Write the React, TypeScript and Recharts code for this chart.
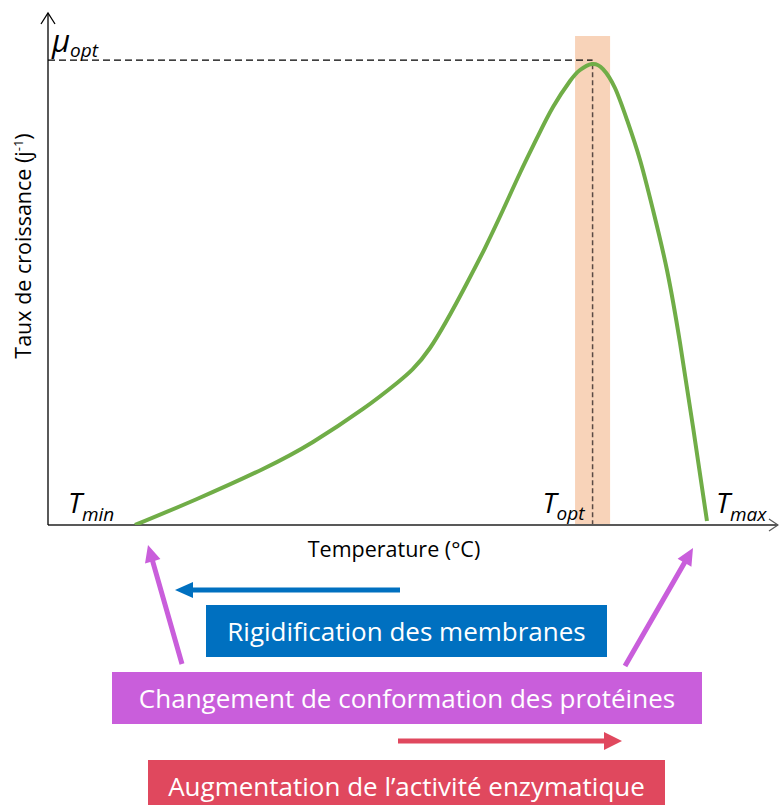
import React from 'react';
import { LineChart, Line, XAxis, YAxis, ReferenceArea, ReferenceLine, ReferenceDot } from 'recharts';

// Temperature (arbitrary units, 0..100) and growth rate (arbitrary units, 0..100)
const temperature = [11.92, 20.41, 29.45, 36.3, 43.15, 47.81, 52.33, 57.4, 59.86, 62.33, 64.66, 66.99, 69.18, 71.51, 72.88, 74.52, 76.03, 77.67, 79.32, 81.1, 82.88, 84.79, 86.58, 88.36, 90.27];
const growthRate = [0, 5.08, 10.94, 16.21, 22.66, 27.73, 34.57, 47.27, 54.1, 61.52, 68.75, 75.59, 81.64, 86.72, 88.87, 90.04, 89.06, 85.35, 79.1, 71.29, 61.52, 49.8, 35.55, 19.14, 0.78];

const T_OPT = 74.6;
const MU_OPT = 90.8;
const OPT_BAND = [72.2, 77.0];
const BAND_TOP = 95.5;

const xTitle = 'Temperature (°C)';
const yTitle = 'Taux de croissance (j';
const boxLabels = ['Rigidification des membranes', 'Changement de conformation des protéines', "Augmentation de l’activité enzymatique"];

const rows = temperature.map((t, i) => ({ t, mu: growthRate[i] }));

const FONT = '"Open Sans", "Noto Sans", sans-serif';

const ArrowX = (p: any) => (
  <path d={`M${p.cx - 9},${p.cy - 6} L${p.cx},${p.cy} L${p.cx - 9},${p.cy + 6}`} fill="none" stroke="#595959" strokeWidth={1.3} />
);
const ArrowY = (p: any) => (
  <path d={`M${p.cx - 7},${p.cy + 11} L${p.cx},${p.cy} L${p.cx + 7},${p.cy + 11}`} fill="none" stroke="#000" strokeWidth={1.3} />
);

const subLabel = (main: string, sub: string, dx: number, dy: number, subDy: number, mainSize = 28) => (p: any) => (
  <text x={p.cx + dx} y={p.cy + dy} fontFamily={FONT} fontStyle="italic" fill="#000">
    <tspan fontSize={mainSize}>{main}</tspan>
    <tspan fontSize={19} dy={subDy}>{sub}</tspan>
  </text>
);

function arrowPath(x1: number, y1: number, x2: number, y2: number, head: number, half: number, w: number) {
  const dx = x2 - x1, dy = y2 - y1;
  const L = Math.hypot(dx, dy);
  const ux = dx / L, uy = dy / L;
  const nx = -uy, ny = ux;
  const bx = x2 - ux * head, by = y2 - uy * head;
  const pts = [
    [x1 + nx * w / 2, y1 + ny * w / 2],
    [bx + nx * w / 2, by + ny * w / 2],
    [bx + nx * half, by + ny * half],
    [x2, y2],
    [bx - nx * half, by - ny * half],
    [bx - nx * w / 2, by - ny * w / 2],
    [x1 - nx * w / 2, y1 - ny * w / 2],
  ];
  return 'M' + pts.map((q) => `${q[0].toFixed(1)},${q[1].toFixed(1)}`).join(' L') + ' Z';
}

const boxStyle = (left: number, top: number, width: number, height: number, bg: string): React.CSSProperties => ({
  position: 'absolute', left, top, width, height, background: bg, color: '#fff',
  display: 'flex', alignItems: 'center', justifyContent: 'center',
  fontFamily: FONT, fontSize: 26, whiteSpace: 'nowrap',
});

export default function App() {
  return (
    <div style={{ position: 'absolute', left: 0, top: 0, width: 779, height: 805, background: '#fff', overflow: 'hidden' }}>
      <div style={{ position: 'absolute', left: 0, top: 0 }}>
        <LineChart width={779} height={805} data={rows} margin={{ top: 13, left: 48, right: 1, bottom: 280 }}>
          <XAxis dataKey="t" type="number" domain={[0, 100]} allowDataOverflow hide />
          <YAxis type="number" domain={[0, 100]} allowDataOverflow hide />
          <ReferenceArea x1={OPT_BAND[0]} x2={OPT_BAND[1]} y1={0} y2={BAND_TOP} fill="#F8D3B9" fillOpacity={1} stroke="none" />
          <ReferenceLine segment={[{ x: 0, y: MU_OPT }, { x: T_OPT, y: MU_OPT }]} stroke="#000" strokeDasharray="7 4" strokeWidth={1.2} />
          <ReferenceLine segment={[{ x: T_OPT, y: 90 }, { x: T_OPT, y: 0 }]} stroke="#5a4a44" strokeDasharray="5 3" strokeWidth={1.5} />
          <ReferenceLine y={0} stroke="#595959" strokeWidth={2} />
          <ReferenceLine x={0} stroke="#000" strokeWidth={1.3} />
          <ReferenceDot x={100} y={0} shape={ArrowX} />
          <ReferenceDot x={0} y={100} shape={ArrowY} />
          <ReferenceDot x={0} y={MU_OPT} shape={subLabel('μ', 'opt', 4, -8, 5, 31)} />
          <ReferenceDot x={temperature[0]} y={0} shape={subLabel('T', 'min', -67, -12, 8)} />
          <ReferenceDot x={T_OPT} y={0} shape={subLabel('T', 'opt', -50, -12, 7)} />
          <ReferenceDot x={temperature[temperature.length - 1]} y={0} shape={subLabel('T', 'max', 9, -12, 8)} />
          <Line type="natural" dataKey="mu" stroke="#70AD47" strokeWidth={4} dot={false} isAnimationActive={false} />
        </LineChart>
      </div>
      <svg width={779} height={805} style={{ position: 'absolute', left: 0, top: 0, pointerEvents: 'none' }}>
        <text x={394} y={557} textAnchor="middle" fontFamily={FONT} fontSize={21.5} fill="#000">{xTitle}</text>
        <text transform="translate(31,246) rotate(-90)" textAnchor="middle" fontFamily={FONT} fontSize={21.5} fill="#000">
          {yTitle}<tspan dy={-8} fontSize={13}>-1</tspan><tspan dy={8}>)</tspan>
        </text>
        <path d={arrowPath(400, 590, 175, 590, 18, 8, 5)} fill="#0070C0" />
        <path d={arrowPath(182, 664, 148, 545, 17, 8, 5)} fill="#C95EDB" />
        <path d={arrowPath(625, 666, 693, 548, 17, 8, 5)} fill="#C95EDB" />
        <path d={arrowPath(398, 741, 622, 741, 18, 9, 5)} fill="#E0485E" />
      </svg>
      <div style={boxStyle(206, 605, 401, 52, '#0070C0')}>{boxLabels[0]}</div>
      <div style={boxStyle(112, 672, 590, 52, '#C95EDB')}>{boxLabels[1]}</div>
      <div style={boxStyle(148, 760, 517, 52, '#E0485E')}>{boxLabels[2]}</div>
    </div>
  );
}
